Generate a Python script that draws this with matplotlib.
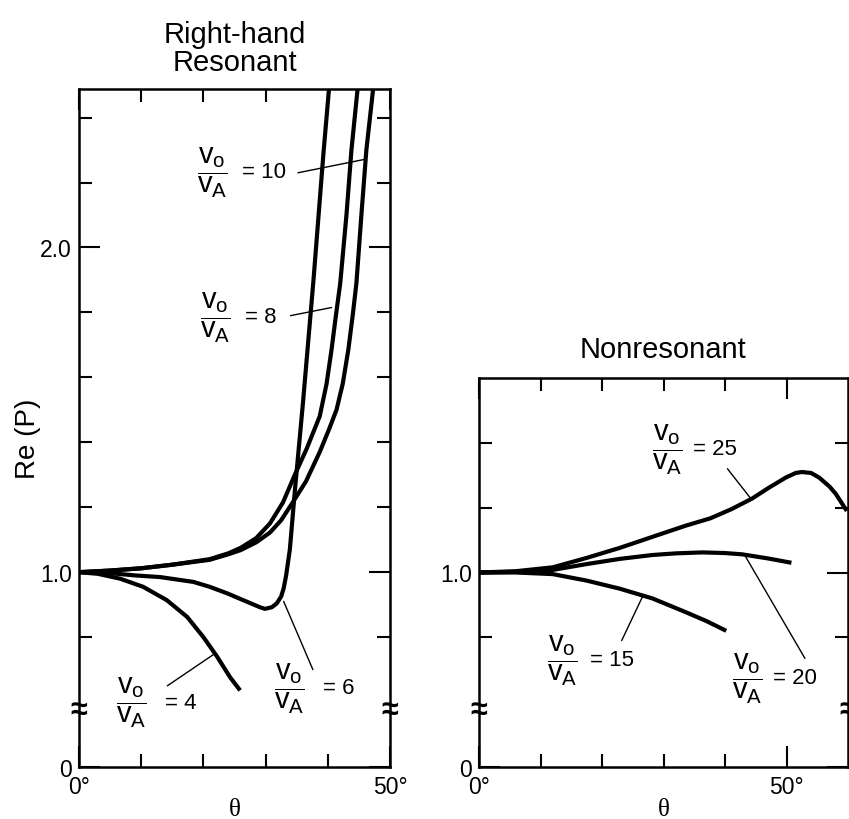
import matplotlib
matplotlib.use('Agg')
import matplotlib.pyplot as plt

plt.rcParams['font.family'] = ['Liberation Sans', 'DejaVu Sans']
plt.rcParams['mathtext.fontset'] = 'custom'
plt.rcParams['mathtext.rm'] = 'Liberation Sans'
plt.rcParams['mathtext.it'] = 'Liberation Sans'

# Right-hand resonant branch: theta (deg) vs Re(P)
res_theta_4 = [0, 3, 6.6, 10.3, 14.1, 17.4, 20, 22.2, 24.3, 25.9]
res_p_4 = [1.0, 0.995, 0.98, 0.955, 0.914, 0.862, 0.80, 0.74, 0.676, 0.636]

res_theta_6 = [0, 5, 9, 13, 18.4, 21, 23.8, 26.5, 29.1, 29.9, 31, 31.8, 32.5, 32.9, 33.3, 33.6,
               33.9, 34.7, 36.0, 37.7, 39.3, 40.2]
res_p_6 = [1.0, 0.997, 0.99, 0.985, 0.97, 0.955, 0.935, 0.913, 0.892, 0.887, 0.892, 0.904, 0.925,
           0.95, 0.99, 1.03, 1.07, 1.25, 1.52, 1.90, 2.29, 2.49]

res_theta_8 = [0, 5, 10, 15, 21, 24, 26, 28.5, 30.7, 32.8, 34.7, 36.6, 38.7, 39.8, 40.6, 41.3,
               42.0, 43.0, 43.8, 44.8]
res_p_8 = [1.0, 1.005, 1.012, 1.023, 1.04, 1.058, 1.075, 1.105, 1.15, 1.215, 1.30, 1.38, 1.48,
           1.58, 1.685, 1.79, 1.89, 2.10, 2.30, 2.49]

res_theta_10 = [0, 5, 10, 15, 21, 24, 26, 28.5, 30.7, 32.5, 34.2, 36.5, 38.7, 40.2, 41.4, 42.4,
                43.3, 44.0, 44.6, 45.4, 46.2, 47.3]
res_p_10 = [1.0, 1.005, 1.012, 1.023, 1.038, 1.055, 1.068, 1.092, 1.122, 1.16, 1.21, 1.28, 1.37,
            1.44, 1.50, 1.58, 1.685, 1.79, 1.89, 2.10, 2.30, 2.49]

# Nonresonant branch
non_theta_15 = [0, 6, 12, 17.5, 22.9, 28.2, 33.7, 37, 40.2]
non_p_15 = [1.0, 1.0, 0.995, 0.975, 0.95, 0.92, 0.877, 0.85, 0.82]

non_theta_20 = [0, 6, 12, 17.5, 22.9, 28.2, 32, 36.3, 40, 42.8, 47.1, 50.8]
non_p_20 = [1.0, 1.002, 1.008, 1.026, 1.042, 1.054, 1.059, 1.062, 1.06, 1.056, 1.043, 1.03]

non_theta_25 = [0, 6, 12, 17.5, 22.9, 28.2, 33.7, 37.6, 41, 44.4, 47, 49.9, 51.5, 52.5, 54, 55.3, 57,
                58, 59.8]
non_p_25 = [1.0, 1.004, 1.016, 1.045, 1.076, 1.11, 1.145, 1.167, 1.195, 1.228, 1.26, 1.293, 1.307,
            1.31, 1.307, 1.293, 1.265, 1.243, 1.19]

LW_CURVE = 3.0
LW_LEAD = 1.0
FRAC = r'$\dfrac{v_o}{v_A}$'


def style_axes(ax, xmax, ymax, ymajor, ymajor_labels, yminor):
    ax.set_xlim(0, xmax)
    ax.set_ylim(0.4, ymax)
    ax.set_xticks([0, 50])
    ax.set_xticklabels(['0°', '50°'])
    ax.set_xticks([10, 20, 30, 40], minor=True)
    ax.set_yticks(ymajor)
    ax.set_yticklabels(ymajor_labels)
    ax.set_yticks(yminor, minor=True)
    ax.tick_params(which='both', direction='in', top=True, right=True, width=1.5,
                   labelsize=16.5, color='black')
    ax.tick_params(which='major', length=15)
    ax.tick_params(which='minor', length=9.5)
    ax.tick_params(axis='x', which='both', pad=6)
    ax.tick_params(axis='y', which='both', pad=5)
    for s in ax.spines.values():
        s.set_linewidth(1.8)
    ax.set_xlabel('θ', fontfamily='Liberation Serif', fontsize=18, labelpad=0)
    # broken-axis marks on both vertical spines
    for xs in (0, 1):
        ax.text(xs, 0.575, '≈', transform=ax.get_yaxis_transform(), ha='center', va='center',
                fontsize=22, fontweight='bold', clip_on=False)


def ratio_label(ax, x, y, eq_x, value, lead_from, lead_to):
    ax.text(x, y, FRAC, ha='center', va='center', fontsize=21)
    ax.text(eq_x, y, f'= {value}', ha='left', va='center', fontsize=16)
    ax.annotate('', xy=lead_to, xytext=lead_from,
                arrowprops=dict(arrowstyle='-', lw=LW_LEAD, color='black',
                                shrinkA=0, shrinkB=0))


fig = plt.figure(figsize=(8.49, 8.20), dpi=100)
ax1 = fig.add_axes([79 / 849, 52 / 820, 311 / 849, 678 / 820])
ax2 = fig.add_axes([479 / 849, 52 / 820, 369 / 849, 389 / 820])

# resonant panel
for th, p in [(res_theta_4, res_p_4), (res_theta_6, res_p_6),
              (res_theta_8, res_p_8), (res_theta_10, res_p_10)]:
    ax1.plot(th, p, color='black', lw=LW_CURVE, solid_joinstyle='round', solid_capstyle='butt')
style_axes(ax1, 50, 2.488, [0.4, 1.0, 2.0], ['0', '1.0', '2.0'],
           [0.8, 1.2, 1.4, 1.6, 1.8, 2.2, 2.4])
ax1.set_title('Right-hand\nResonant', fontsize=21, pad=14, linespacing=1.0)
ax1.text(-0.165, 0.485, 'Re (P)', transform=ax1.transAxes, rotation=90,
         ha='center', va='center', fontsize=20)

ratio_label(ax1, 21.5, 2.235, 26.2, 10, (35.2, 2.23), (46.1, 2.272))
ratio_label(ax1, 22.0, 1.787, 26.7, 8, (34.0, 1.79), (40.6, 1.815))
ratio_label(ax1, 33.9, 0.645, 39.2, 6, (37.6, 0.70), (32.9, 0.91))
ratio_label(ax1, 8.5, 0.60, 13.8, 4, (14.2, 0.65), (21.9, 0.75))

# nonresonant panel
for th, p in [(non_theta_15, non_p_15), (non_theta_20, non_p_20), (non_theta_25, non_p_25)]:
    ax2.plot(th, p, color='black', lw=LW_CURVE, solid_joinstyle='round', solid_capstyle='butt')
style_axes(ax2, 60, 1.6, [0.4, 1.0], ['0', '1.0'], [0.8, 1.2, 1.4])
ax2.set_title('Nonresonant', fontsize=21, pad=15)

ratio_label(ax2, 30.6, 1.383, 34.8, 25, (40.4, 1.32), (44.2, 1.228))
ratio_label(ax2, 43.6, 0.676, 47.8, 20, (53.0, 0.735), (43.1, 1.057))
ratio_label(ax2, 13.5, 0.731, 18.0, 15, (23.2, 0.79), (26.7, 0.93))

fig.savefig('out.png', dpi=100, facecolor='white')
